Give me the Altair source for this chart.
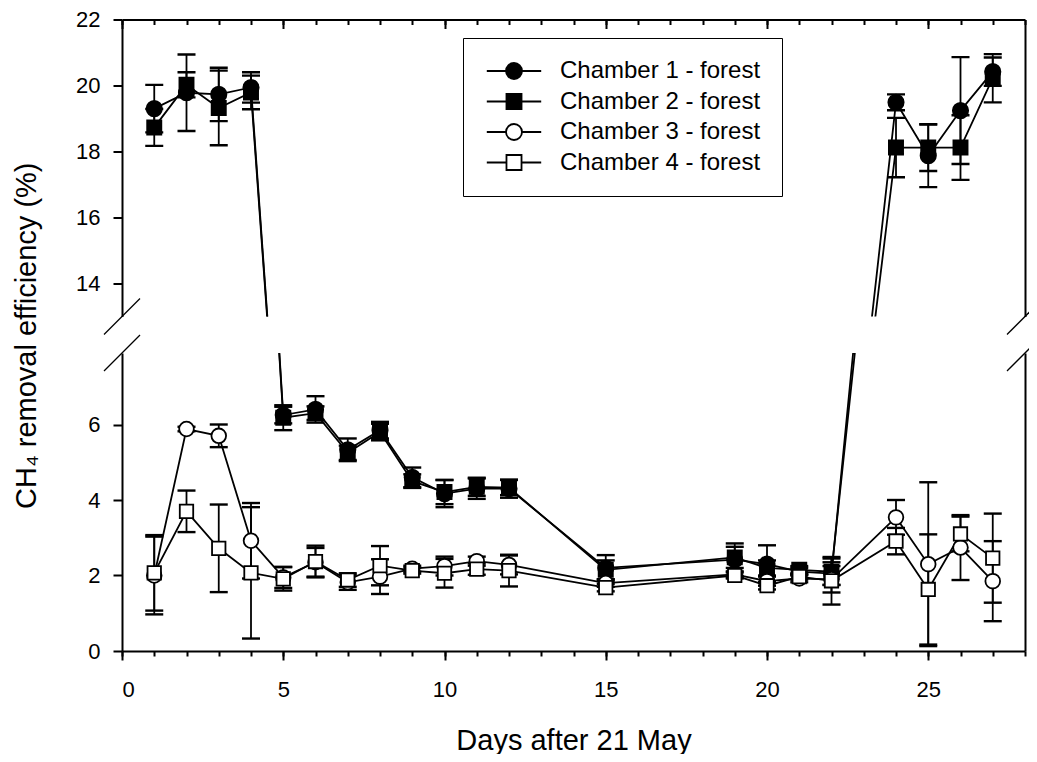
import altair as alt
import pandas as pd

# ---------------- data ----------------
days = [1, 2, 3, 4, 5, 6, 7, 8, 9, 10, 11, 12, 15, 19, 20, 21, 22, 24, 25, 26, 27]

chambers = ["Chamber 1 - forest", "Chamber 2 - forest",
            "Chamber 3 - forest", "Chamber 4 - forest"]

c1_mean = [19.30, 19.78, 19.73, 19.94, 6.25, 6.40, 5.33, 5.85, 4.60, 4.17, 4.30,
           4.30, 2.20, 2.42, 2.30, 2.10, 2.05, 19.49, 17.87, 19.24, 20.42]
c1_sd = [0.72, 1.16, 0.81, 0.46, 0.22, 0.35, 0.30, 0.22, 0.26, 0.36, 0.27,
         0.24, 0.34, 0.43, 0.50, 0.10, 0.30, 0.24, 0.95, 1.62, 0.43]

c2_mean = [18.73, 20.02, 19.32, 19.79, 6.18, 6.30, 5.25, 5.80, 4.50, 4.21, 4.35,
           4.33, 2.15, 2.48, 2.20, 2.15, 2.10, 18.12, 18.12, 18.12, 20.22]
c2_sd = [0.56, 0.38, 1.13, 0.51, 0.33, 0.18, 0.19, 0.22, 0.18, 0.32, 0.24,
         0.20, 0.25, 0.28, 0.20, 0.10, 0.35, 0.90, 0.71, 0.98, 0.73]

c3_mean = [2.00, 5.88, 5.70, 2.92, 1.95, 2.35, 1.82, 1.97, 2.18, 2.25, 2.38,
           2.28, 1.80, 2.03, 1.85, 1.92, 1.90, 3.54, 2.30, 2.74, 1.85]
c3_sd = [1.03, 0.06, 0.30, 1.00, 0.28, 0.38, 0.20, 0.46, 0.08, 0.25, 0.12,
         0.25, 0.10, 0.08, 0.12, 0.10, 0.35, 0.46, 2.17, 0.86, 1.06]

c4_mean = [2.07, 3.70, 2.72, 2.07, 1.91, 2.37, 1.88, 2.26, 2.13, 2.06, 2.17,
           2.13, 1.68, 2.00, 1.73, 1.97, 1.86, 2.91, 1.63, 3.10, 2.46]
c4_sd = [1.00, 0.55, 1.16, 1.74, 0.31, 0.42, 0.18, 0.52, 0.08, 0.38, 0.15,
         0.42, 0.10, 0.08, 0.10, 0.08, 0.63, 0.35, 1.46, 0.46, 1.18]

x_major_ticks = [0, 5, 10, 15, 20, 25]
x_minor_ticks = list(range(0, 29))
y_upper_ticks = [14, 16, 18, 20, 22]
y_lower_ticks = [0, 2, 4, 6]

x_title = "Days after 21 May"
y_title = "CH\u2084 removal efficiency (%)"

rows = []
for name, means, sds in zip(chambers, [c1_mean, c2_mean, c3_mean, c4_mean],
                            [c1_sd, c2_sd, c3_sd, c4_sd]):
    for d, m, s in zip(days, means, sds):
        rows.append({"day": d, "chamber": name, "value": m,
                     "lo": m - s, "hi": m + s})
df = pd.DataFrame(rows)

# ---------------- styling ----------------
FONT = "Liberation Sans"
W = 903
H_UP = 297
H_LO = 298
GAP = 36.5
X_DOMAIN = [0, 28]
UP_DOMAIN = [13, 22]
LO_DOMAIN = [0, H_LO / 37.75]

marker_style = {
    chambers[0]: dict(shape="circle", fill="black", size=235),
    chambers[1]: dict(shape="square", fill="black", size=200),
    chambers[2]: dict(shape="circle", fill="white", size=215),
    chambers[3]: dict(shape="square", fill="white", size=180),
}

# legend symbols: marker with a line through it (unit coords, scaled by sqrt(size)/2)
leg_circle = "M-3.4,0H-1M1,0H3.4M1,0A1,1,0,1,1,-1,0A1,1,0,1,1,1,0Z"
leg_square = "M-3.4,0H-0.94M0.94,0H3.4M-0.94,-0.94H0.94V0.94H-0.94Z"
leg_paths = [leg_circle, leg_square, leg_circle, leg_square]
leg_fills = ["black", "black", "white", "white"]


def panel(ydomain, height, upper):
    xs = alt.Scale(domain=X_DOMAIN, nice=False, zero=False)
    ys = alt.Scale(domain=ydomain, nice=False, zero=False)
    base = alt.Chart(df)

    if upper:
        ax_x1 = alt.Axis(orient="top", values=x_major_ticks, tickSize=9, offset=-9,
                         domain=False, labels=False, title=None, grid=False)
        ax_x2 = alt.Axis(orient="top", values=x_minor_ticks, tickSize=5, offset=-5,
                         domain=False, labels=False, title=None, grid=False)
        ax_x3 = alt.Axis(orient="top", values=x_minor_ticks, ticks=False,
                         domain=True, labels=False, title=None, grid=False)
        ax_y1 = alt.Axis(orient="left", values=y_upper_ticks, tickSize=9,
                         labelFontSize=22, labelPadding=13, grid=False,
                         title=y_title, titleFontSize=29, titleX=-87,
                         titleY=(H_UP + GAP + H_LO) / 2, titleBaseline="alphabetic",
                         titleAngle=270)
    else:
        ax_x1 = alt.Axis(orient="bottom", values=x_major_ticks, tickSize=9,
                         labelFontSize=22, labelPadding=19, domain=True, grid=False,
                         title=x_title, titleFontSize=29, titleBaseline="alphabetic",
                         titleY=98)
        ax_x2 = alt.Axis(orient="bottom", values=x_minor_ticks, tickSize=5,
                         domain=False, labels=False, title=None, grid=False)
        ax_x3 = None
        ax_y1 = alt.Axis(orient="left", values=y_lower_ticks, tickSize=9,
                         labelFontSize=22, labelPadding=13, grid=False, title=None)
    ax_y2 = alt.Axis(orient="right", ticks=False, labels=False, domain=True,
                     title=None, grid=False)

    lines = base.mark_line(color="black", strokeWidth=1.8, clip=True).encode(
        x=alt.X("day:Q", scale=xs, axis=ax_x1),
        y=alt.Y("value:Q", scale=ys, axis=ax_y1),
        detail="chamber:N",
        order="day:Q",
    )
    bars = base.mark_rule(color="black", strokeWidth=1.8, clip=True).encode(
        x=alt.X("day:Q", scale=xs, axis=ax_x2),
        y=alt.Y("lo:Q", scale=ys, axis=ax_y2),
        y2="hi:Q",
    )
    caps = []
    for i, fld in enumerate(["lo", "hi"]):
        caps.append(base.mark_point(shape="M-1,0H1", size=324, filled=False,
                                    color="black", strokeWidth=2.4, opacity=1,
                                    clip=True).encode(
            x=alt.X("day:Q", scale=xs,
                    axis=(ax_x3 if (i == 0 and ax_x3 is not None) else None)),
            y=alt.Y(f"{fld}:Q", scale=ys, axis=None),
        ))
    pts = []
    for name in chambers:
        st = marker_style[name]
        pts.append(base.transform_filter(alt.datum.chamber == name).mark_point(
            shape=st["shape"], filled=True, fill=st["fill"], stroke="black",
            strokeWidth=1.8, size=st["size"], opacity=1, clip=True).encode(
            x=alt.X("day:Q", scale=xs, axis=None),
            y=alt.Y("value:Q", scale=ys, axis=None),
        ))

    # axis-break slashes
    slash_df = pd.DataFrame({"s": [0]})
    if upper:
        yb, ya = height + 18, height - 18
    else:
        yb, ya = 18, -18
    slashes = []
    for xc in (0, W):
        slashes.append(alt.Chart(slash_df).mark_rule(
            color="black", strokeWidth=1.3, clip=False).encode(
            x=alt.value(xc - 18), x2=alt.value(xc + 18),
            y=alt.value(yb), y2=alt.value(ya)))

    layers = [lines, bars] + caps + pts + slashes

    if upper:
        legend = alt.Legend(
            orient="none", legendX=341, legendY=18.5, title=None,
            padding=21, symbolOffset=18, labelOffset=34, rowPadding=6.5,
            labelFontSize=24, labelFont=FONT, labelLimit=500, labelColor="black",
            symbolSize=256, symbolStrokeWidth=1.8,
            strokeColor="black", fillColor="white")
        leg = base.transform_filter("datum.day < 0").mark_point(
            filled=False, color="black", strokeWidth=1.8, size=256, opacity=1).encode(
            shape=alt.Shape("chamber:N", scale=alt.Scale(domain=chambers, range=leg_paths),
                            legend=legend),
            fill=alt.Fill("chamber:N", scale=alt.Scale(domain=chambers, range=leg_fills),
                          legend=legend),
        )
        layers.append(leg)

    return alt.layer(*layers).resolve_axis(x="independent", y="independent").properties(
        width=W, height=height)


upper = panel(UP_DOMAIN, H_UP, True)
lower = panel(LO_DOMAIN, H_LO, False)

# svg = 1021 x 746 (page 1037 x 762 with the 8px body margin)
chart = alt.vconcat(upper, lower, spacing=GAP, bounds="flush").properties(
    autosize=alt.AutoSizeParams(type="none"),
    padding={"left": 114, "top": 11.5, "right": 4, "bottom": 734.5}
).configure_view(stroke=None).configure_axis(
    labelFont=FONT, titleFont=FONT, labelColor="black", titleColor="black",
    domainColor="black", tickColor="black", domainWidth=2, tickWidth=2,
    titleFontWeight="normal", grid=False
)

chart.save("out.html", embed_options={"renderer": "svg", "actions": False})
